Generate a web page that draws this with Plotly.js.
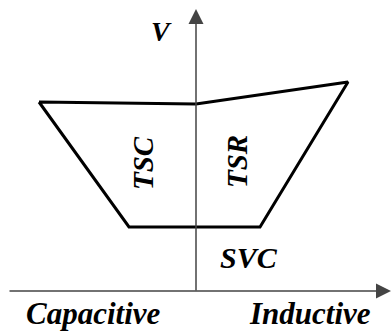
<!DOCTYPE html>
<html>
<head>
<meta charset="utf-8">
<script src="https://cdn.plot.ly/plotly-3.0.1.min.js"></script>
<style>html,body{margin:0;padding:0;background:#fff;}#chart{width:391px;height:333px;}</style>
</head>
<body>
<div id="chart"></div>
<script>
// Operating region of SVC (reactive power Q vs voltage V), schematic units
const regionQ = [-157, 0, 152, 64, -67, -157];
const regionV = [189, 187, 209, 64, 64, 189];

const axisLabels = ["Capacitive", "Inductive"];
const axisLabelQ = [-103, 114];
const regionLabels = ["TSC", "TSR"];
const regionLabelQ = [-53, 41];
const regionLabelV = [128, 129];
const svcLabel = "SVC";
const vLabel = "V";

const font = {family: "Liberation Serif", size: 30, color: "#000", weight: "bold", style: "italic"};

const traces = [{
  x: regionQ, y: regionV, type: "scatter", mode: "lines",
  line: {color: "#000", width: 3}, hoverinfo: "skip"
}];

const annotations = [
  // Q axis with arrow
  {x: 195, y: 0, ax: -188, ay: 0, axref: "x", ayref: "y", xref: "x", yref: "y",
   showarrow: true, arrowhead: 2, arrowsize: 2, arrowwidth: 1.5, arrowcolor: "#444", text: "", standoff: 0},
  // V axis with arrow
  {x: 0, y: 282, ax: 0, ay: -1, axref: "x", ayref: "y", xref: "x", yref: "y",
   showarrow: true, arrowhead: 2, arrowsize: 2, arrowwidth: 1.5, arrowcolor: "#444", text: "", standoff: 0},
  {x: -35, y: 260, text: vLabel, showarrow: false, font: Object.assign({}, font, {size: 28})},
  {x: regionLabelQ[0], y: regionLabelV[0], text: regionLabels[0], textangle: -90, showarrow: false, font: Object.assign({}, font, {size: 29})},
  {x: regionLabelQ[1], y: regionLabelV[1], text: regionLabels[1], textangle: -90, showarrow: false, font: Object.assign({}, font, {size: 29})},
  {x: 53, y: 34, text: svcLabel, showarrow: false, font: font},
  {x: axisLabelQ[0], y: -41, yanchor: "bottom", borderpad: 0, text: axisLabels[0], showarrow: false, font: Object.assign({}, font, {size: 31})},
  {x: axisLabelQ[1], y: -41, yanchor: "bottom", borderpad: 0, text: axisLabels[1], showarrow: false, font: Object.assign({}, font, {size: 31})}
];

const layout = {
  width: 391, height: 333,
  margin: {l: 0, r: 0, t: 0, b: 0},
  paper_bgcolor: "#fff", plot_bgcolor: "#fff",
  showlegend: false,
  xaxis: {range: [-196, 195], visible: false, fixedrange: true},
  yaxis: {range: [-42, 291], visible: false, fixedrange: true},
  annotations: annotations
};

Plotly.newPlot("chart", traces, layout, {staticPlot: true, displayModeBar: false});
</script>
</body>
</html>
